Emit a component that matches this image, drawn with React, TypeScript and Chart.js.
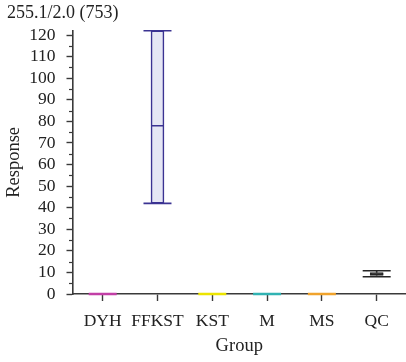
import { useEffect, useRef } from 'react';
import { Chart, registerables } from 'chart.js';

Chart.register(...registerables);

const chartTitle = '255.1/2.0 (753)';
const xAxisTitle = 'Group';
const yAxisTitle = 'Response';
const categories = ['DYH', 'FFKST', 'KST', 'M', 'MS', 'QC'];
const minValues = [0, 42, 0, 0, 0, 8.0];
const q1Values = [0, 42, 0, 0, 0, 8.6];
const medianValues = [0, 78, 0, 0, 0, 9.2];
const q3Values = [0, 122, 0, 0, 0, 9.9];
const maxValues = [0, 122, 0, 0, 0, 10.8];
const strokeColors = ['#c23fa6', '#3b3392', '#ece400', '#31b3b3', '#f0a32c', '#262626'];
const fillColors = ['#c23fa6', '#e5e6f4', '#ece400', '#31b3b3', '#f0a32c', '#ffffff'];
const yMajorTicks = [0, 10, 20, 30, 40, 50, 60, 70, 80, 90, 100, 110, 120];
const yMinorTicks = [5, 15, 25, 35, 45, 55, 65, 75, 85, 95, 105, 115];

const AXIS_COLOR = '#3a3a3a';
const TEXT_COLOR = '#222';
const FONT = 'Liberation Serif';

const boxPlugin = {
  id: 'boxWhiskers',
  afterDatasetsDraw(chart: any) {
    const ctx = chart.ctx;
    const xs = chart.scales.x;
    const ys = chart.scales.y;
    ctx.save();
    categories.forEach((_, i) => {
      const x = xs.getPixelForValue(i);
      const yMin = ys.getPixelForValue(minValues[i]);
      const yQ1 = ys.getPixelForValue(q1Values[i]);
      const yMed = ys.getPixelForValue(medianValues[i]);
      const yQ3 = ys.getPixelForValue(q3Values[i]);
      const yMax = ys.getPixelForValue(maxValues[i]);
      const flat = maxValues[i] === minValues[i];
      ctx.strokeStyle = strokeColors[i];
      ctx.lineWidth = flat ? 2.5 : 1.6;
      const capHalf = 14;
      const boxHalf = 6.5;
      ctx.beginPath();
      if (!flat) {
        ctx.moveTo(x, yMax);
        ctx.lineTo(x, yQ3);
        ctx.moveTo(x, yQ1);
        ctx.lineTo(x, yMin);
      }
      ctx.moveTo(x - capHalf, yMax);
      ctx.lineTo(x + capHalf, yMax);
      ctx.moveTo(x - capHalf, yMin);
      ctx.lineTo(x + capHalf, yMin);
      if (!flat) {
        ctx.moveTo(x - boxHalf, yMed);
        ctx.lineTo(x + boxHalf, yMed);
      }
      ctx.stroke();
    });
    ctx.restore();
  },
  afterDraw(chart: any) {
    const ctx = chart.ctx;
    const ys = chart.scales.y;
    const xr = chart.chartArea.left;
    ctx.save();
    ctx.strokeStyle = AXIS_COLOR;
    ctx.lineWidth = 1.2;
    yMinorTicks.forEach((v) => {
      const y = Math.round(ys.getPixelForValue(v)) + 0.5;
      ctx.beginPath();
      ctx.moveTo(xr - 3.5, y);
      ctx.lineTo(xr, y);
      ctx.stroke();
    });
    ctx.restore();
  },
};

export default function App() {
  const canvasRef = useRef<HTMLCanvasElement | null>(null);

  useEffect(() => {
    if (!canvasRef.current) return;
    const chart = new Chart(canvasRef.current, {
      type: 'bar',
      data: {
        datasets: [
          {
            data: categories.map((_, i) => ({ x: i, y: [q1Values[i], q3Values[i]] })) as any,
            backgroundColor: fillColors,
            borderColor: strokeColors,
            borderWidth: 1.6,
            borderSkipped: false,
            barThickness: 13,
            clip: false as any,
          },
        ],
      },
      options: {
        animation: false,
        responsive: false,
        devicePixelRatio: 1,
        layout: { padding: { left: 7, right: 0, top: 0, bottom: 0 } },
        plugins: {
          legend: { display: false },
          tooltip: { enabled: false },
          title: {
            display: true,
            text: chartTitle,
            align: 'start',
            color: TEXT_COLOR,
            font: { family: FONT, size: 18, weight: 'normal', lineHeight: 1.1 },
            padding: { top: 3, bottom: 8 },
          },
        },
        scales: {
          x: {
            type: 'linear',
            offset: false,
            min: -0.551,
            max: 5.535,
            afterFit: (scale: any) => {
              scale.height = 68;
            },
            afterBuildTicks: (scale: any) => {
              scale.ticks = categories.map((_, i) => ({ value: i }));
            },
            ticks: {
              callback: (v: any) => categories[v as number] ?? '',
              color: TEXT_COLOR,
              font: { family: FONT, size: 17.5 },
              padding: 10,
              maxRotation: 0,
              autoSkip: false,
            },
            grid: {
              display: true,
              offset: false,
              drawOnChartArea: false,
              drawTicks: true,
              tickLength: 7,
              tickColor: AXIS_COLOR,
              tickWidth: 1.4,
            },
            border: { display: true, color: AXIS_COLOR, width: 1.6 },
            title: {
              display: true,
              text: xAxisTitle,
              color: TEXT_COLOR,
              font: { family: FONT, size: 18.5, lineHeight: 1.2 },
              padding: { top: 0, bottom: 4.5 },
            },
          },
          y: {
            type: 'linear',
            min: 0,
            max: 122,
            afterFit: (scale: any) => {
              scale.width = 65.5;
            },
            afterBuildTicks: (scale: any) => {
              scale.ticks = yMajorTicks.map((v) => ({ value: v }));
            },
            ticks: {
              color: TEXT_COLOR,
              font: { family: FONT, size: 17.5 },
              padding: 11,
              autoSkip: false,
            },
            grid: {
              display: true,
              drawOnChartArea: false,
              drawTicks: true,
              tickLength: 6,
              tickColor: AXIS_COLOR,
              tickWidth: 1.4,
            },
            border: { display: true, color: AXIS_COLOR, width: 1.6 },
            title: {
              display: true,
              text: yAxisTitle,
              color: TEXT_COLOR,
              font: { family: FONT, size: 18.5, lineHeight: 0.8 },
              padding: 0,
            },
          },
        },
      },
      plugins: [boxPlugin],
    });
    return () => chart.destroy();
  }, []);

  return (
    <div style={{ position: 'absolute', left: 0, top: 0, width: 406, height: 362 }}>
      <canvas ref={canvasRef} width={406} height={362} />
    </div>
  );
}
